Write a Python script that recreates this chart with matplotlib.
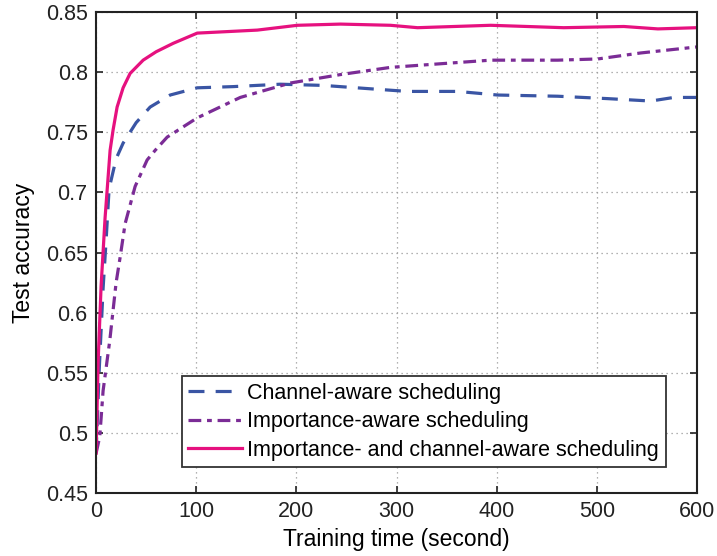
"""Test accuracy vs. training time for three scheduling schemes."""

import matplotlib.pyplot as plt

# Data
CHANNEL_T = [0, 3, 7, 10, 13, 20, 27, 40, 54, 74, 101, 137, 184, 227, 277,
             311, 361, 401, 461, 511, 554, 577, 600]
CHANNEL_ACC = [0.483, 0.55, 0.62, 0.66, 0.703, 0.728, 0.741, 0.758, 0.771,
               0.781, 0.787, 0.788, 0.790, 0.789, 0.786, 0.784, 0.784, 0.781,
               0.780, 0.778, 0.776, 0.779, 0.779]

IMPORTANCE_T = [0, 3.7, 7, 13.7, 20, 24, 29, 39, 51, 59, 71, 101, 144, 194,
                244, 294, 327, 394, 461, 501, 544, 600]
IMPORTANCE_ACC = [0.483, 0.497, 0.535, 0.577, 0.625, 0.646, 0.674, 0.705,
                  0.727, 0.735, 0.746, 0.762, 0.779, 0.791, 0.798, 0.804,
                  0.806, 0.810, 0.810, 0.811, 0.816, 0.821]

JOINT_T = [0, 2, 5, 9, 14, 17, 21, 27, 34, 47, 60, 77, 101, 161, 201, 244,
           294, 321, 394, 467, 527, 561, 600]
JOINT_ACC = [0.483, 0.558, 0.622, 0.679, 0.735, 0.752, 0.771, 0.787, 0.799,
             0.810, 0.817, 0.824, 0.8325, 0.835, 0.839, 0.840, 0.839, 0.837,
             0.839, 0.837, 0.838, 0.836, 0.837]

LABELS = [
    "Channel-aware scheduling",
    "Importance-aware scheduling",
    "Importance- and channel-aware scheduling",
]

X_TICKS = [0, 100, 200, 300, 400, 500, 600]
Y_TICKS = [0.45, 0.5, 0.55, 0.6, 0.65, 0.7, 0.75, 0.8, 0.85]
Y_TICK_LABELS = ["0.45", "0.5", "0.55", "0.6", "0.65", "0.7", "0.75", "0.8", "0.85"]

plt.rcParams.update(
    {
        "font.family": ["Liberation Sans", "DejaVu Sans"],
        "font.size": 15,
    }
)


def main() -> None:
    fig = plt.figure(figsize=(7.17, 5.56), dpi=100)
    ax = fig.add_axes([0.134, 0.1133, 0.838, 0.865])

    ax.plot(CHANNEL_T, CHANNEL_ACC, color="#3A55A4", linewidth=2.3,
            dashes=(5, 3.5), label=LABELS[0])
    ax.plot(IMPORTANCE_T, IMPORTANCE_ACC, color="#7B2C96", linewidth=2.3,
            dashes=(4, 1.8, 1.5, 1.8), label=LABELS[1])
    ax.plot(JOINT_T, JOINT_ACC, color="#E6117F", linewidth=2.3,
            label=LABELS[2])

    ax.set_xlim(0, 600)
    ax.set_ylim(0.45, 0.85)
    ax.set_xticks(X_TICKS)
    ax.set_yticks(Y_TICKS)
    ax.set_yticklabels(Y_TICK_LABELS)
    ax.tick_params(direction="in", top=True, right=True, length=5,
                   width=1.2, labelsize=15.5, pad=6, colors="#222222")
    for spine in ax.spines.values():
        spine.set_linewidth(1.5)
        spine.set_color("#222222")

    ax.grid(True, linestyle=(0, (1, 3)), color="#999999", linewidth=0.9)
    ax.set_axisbelow(True)

    ax.set_xlabel("Training time (second)", fontsize=16.5, labelpad=4)
    ax.set_ylabel("Test accuracy", fontsize=16.5, labelpad=8)

    leg = ax.legend(loc="lower right", bbox_to_anchor=(0.948, 0.054),
                    fontsize=15.5, handlelength=2.5, handletextpad=0.25,
                    labelspacing=0.35, borderpad=0.3, borderaxespad=0.0,
                    fancybox=False, framealpha=1.0, edgecolor="#333333")
    leg.get_frame().set_linewidth(1.3)

    fig.savefig("out.png", dpi=100)
    plt.close(fig)


if __name__ == "__main__":
    main()
